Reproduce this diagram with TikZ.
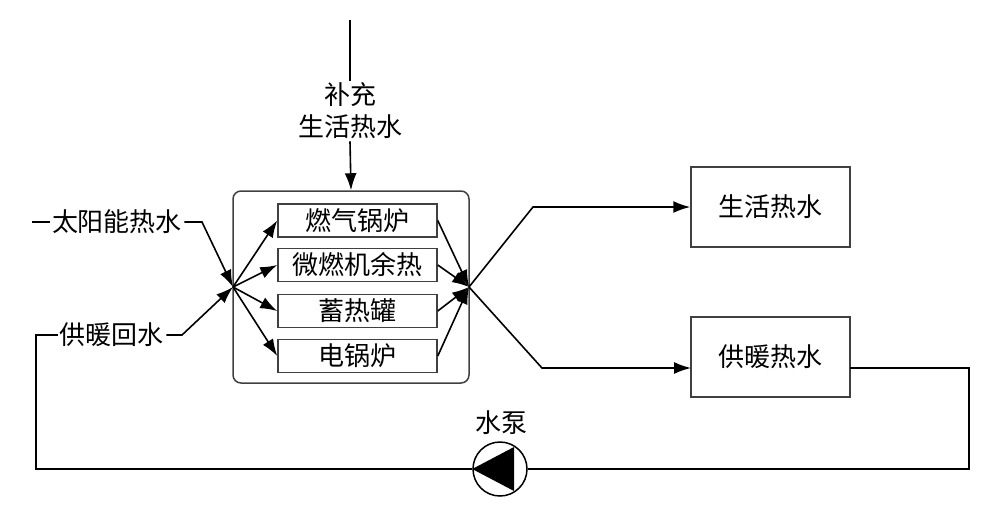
\documentclass[tikz,border=0pt]{standalone}
\usepackage{fontspec}
\setmainfont{Noto Sans CJK SC}
\usetikzlibrary{arrows.meta}

\tikzset{
  unit/.style={draw=black!75, line width=0.75pt, minimum width=79.5pt, minimum height=16.5pt, inner sep=0pt},
  sink/.style={draw=black!75, line width=0.75pt, minimum width=79.5pt, minimum height=40pt, inner sep=0pt},
  pipe/.style={line width=0.8pt},
  flow/.style={line width=0.8pt, -{Latex[length=8.5pt,width=6pt]}},
}

\begin{document}
\begin{tikzpicture}[x=0.5pt, y=-0.5pt, font=\fontsize{13}{16}\selectfont]
  \useasboundingbox (0,0) rectangle (986,521);

  % plant with the four heat sources
  \node[draw=black!75, line width=0.75pt, rounded corners=4pt, minimum width=118pt, minimum height=96pt] (plant) at (351,287) {};
  \node[unit] (gas)   at (357.5,220.5) {燃气锅炉};
  \node[unit] (micro) at (357.5,265)   {微燃机余热};
  \node[unit] (tank)  at (357.5,311)   {蓄热罐};
  \node[unit] (elec)  at (357.5,356)   {电锅炉};

  \coordinate (jl) at (233,287);
  \coordinate (jr) at (469,287);

  %-------------
  \draw[flow] (jl) -- (gas.west);
  \draw[flow] (jl) -- (micro.west);
  \draw[flow] (jl) -- (tank.west);
  \draw[flow] (jl) -- (elec.west);

  \draw[flow] (gas.east) -- (jr);
  \draw[flow] (micro.east) -- (jr);
  \draw[flow] (tank.east) -- (jr);
  \draw[flow] (elec.east) -- (jr);

  %-------------
  \coordinate (top) at (350,20);
  \node[align=center, inner sep=1pt] (supply) at (350,111) {补充\\生活热水};
  \draw[pipe] (top) -- (supply.north);
  \draw[flow] (supply.south) -- (plant.north);

  %-------------
  \node[inner sep=1pt] (solar) at (117,222) {太阳能热水};
  \node[inner sep=1pt] (ret)   at (112,335) {供暖回水};
  \coordinate (stub) at (32,222);

  \draw[pipe] (stub) -- (solar.west);
  \draw[flow] (solar.east) -- (202,222) -- (jl);
  \draw[flow] (ret.east) -- (182,335) -- (jl);

  %-------------
  \node[sink] (hot)  at (770.5,207) {生活热水};
  \node[sink] (heat) at (770.5,357) {供暖热水};
  \coordinate (heatin)  at (691,368);
  \coordinate (heatout) at (850,368);

  \draw[flow] (jr) -- (533,207) -- (hot.west);
  \draw[flow] (jr) -- (542,368) -- (heatin);

  %-------------
  \node[draw, line width=0.75pt, circle, minimum size=27pt, inner sep=0pt] (pump) at (500,469) {};
  \fill (pump.west) -- (514,447) -- (514,491) -- cycle;
  \node (pumplabel) at (501,423) {水泵};

  \draw[pipe] (heatout) -- (969,368) -- (969,469) -- (pump.east);
  \draw[pipe] (pump.west) -- (36,469) -- (36,335) -- (ret.west);

\end{tikzpicture}
\end{document}
